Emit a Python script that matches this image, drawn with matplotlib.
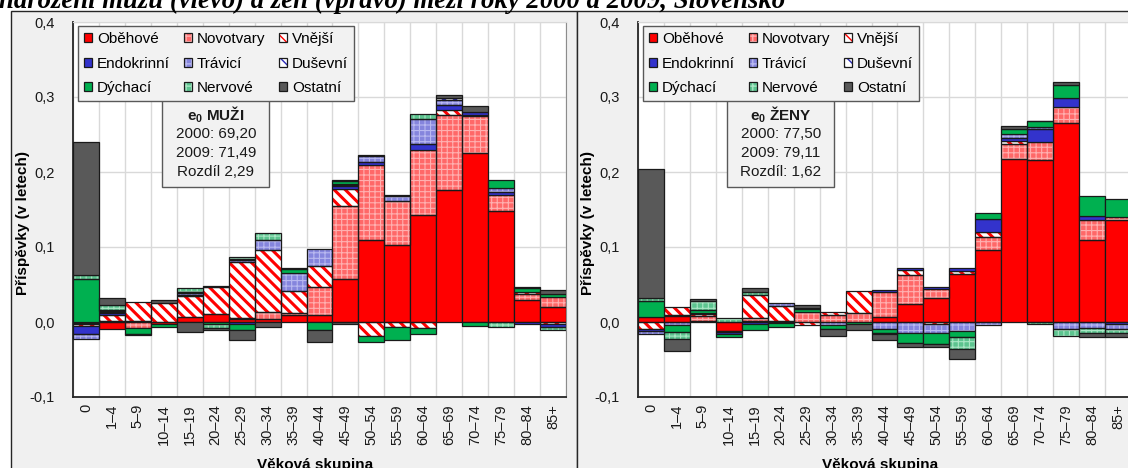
import numpy as np
import matplotlib
matplotlib.use("Agg")
import matplotlib.pyplot as plt
import matplotlib.patches as mpatches
import matplotlib.ticker as ticker
from matplotlib.legend_handler import HandlerTuple

plt.rcParams['font.family'] = ['Liberation Sans', 'DejaVu Sans']
plt.rcParams['mathtext.fontset'] = 'custom'
plt.rcParams['mathtext.rm'] = 'Liberation Sans'
plt.rcParams['mathtext.bf'] = 'Liberation Sans:bold'

W, H = 1128, 468

vekove_skupiny = ["0", "1–4", "5–9", "10–14", "15–19", "20–24", "25–29", "30–34", "35–39",
                  "40–44", "45–49", "50–54", "55–59", "60–64", "65–69", "70–74", "75–79",
                  "80–84", "85+"]
priciny = ["Oběhové", "Novotvary", "Vnější", "Endokrinní", "Trávicí", "Duševní",
           "Dýchací", "Nervové", "Ostatní"]

# muzi
obehove_m = [-0.001, -0.009, 0.001, -0.002, 0.007, 0.011, 0.004, 0.0045, 0.010, 0.0098,
             0.057, 0.110, 0.103, 0.143, 0.1755, 0.2253, 0.148, 0.030, 0.020]
novotvary_m = [-0.002, 0.002, -0.008, 0.0, 0.0, 0.0, 0.001, 0.009, 0.002, 0.037,
               0.098, 0.100, 0.0587, 0.086, 0.100, 0.049, 0.021, 0.0075, 0.013]
vnejsi_m = [-0.002, 0.008, 0.026, 0.025, 0.0275, 0.0355, 0.075, 0.082, 0.030, 0.028,
            0.022, -0.019, -0.006, -0.008, 0.0067, 0.002, 0.0, 0.003, -0.002]
endokrinni_m = [-0.0115, 0.002, 0.0, 0.0, 0.001, 0.001, -0.002, 0.0, 0.0, 0.0,
                0.004, 0.003, 0.0, 0.009, 0.0075, 0.004, 0.005, -0.003, -0.004]
travici_m = [-0.006, 0.002, 0.0, 0.0, 0.003, 0.0, 0.003, 0.0145, 0.024, 0.022,
             0.002, 0.009, 0.006, 0.033, 0.0067, 0.0, 0.005, 0.0, 0.0]
dusevni_m = [0.0, 0.001, 0.0, 0.0, 0.001, 0.0, 0.001, 0.0, 0.0, 0.0,
             0.001, 0.0, 0.0, 0.0, 0.002, 0.0, 0.0, 0.0, 0.0]
dychaci_m = [0.058, 0.001, -0.008, -0.004, 0.001, -0.002, -0.008, 0.0, 0.0045, -0.011,
             0.004, -0.0075, -0.018, -0.008, 0.0, -0.005, 0.011, 0.005, 0.005]
nervove_m = [0.0045, 0.007, 0.0, 0.0, 0.005, -0.006, 0.003, 0.009, 0.0, 0.0,
             0.001, 0.0, 0.0, 0.006, 0.0, 0.0, -0.006, 0.0, -0.004]
ostatni_m = [0.1775, 0.009, -0.001, 0.005, -0.0135, -0.003, -0.014, -0.006, 0.002, -0.015,
             -0.002, 0.001, 0.002, 0.0, 0.004, 0.0075, 0.0, 0.001, 0.0045]

# zeny
obehove_z = [0.0067, 0.0075, 0.001, -0.0115, 0.001, 0.002, 0.0, 0.0, 0.0, 0.0067,
             0.0236, 0.0324, 0.0636, 0.0964, 0.2178, 0.2156, 0.2658, 0.109, 0.1356]
novotvary_z = [0.0, 0.0025, 0.0067, 0.0, 0.0045, 0.0, 0.0133, 0.009, 0.0125, 0.0333,
               0.0387, 0.012, 0.0, 0.0169, 0.020, 0.0244, 0.0209, 0.0276, 0.005]
vnejsi_z = [-0.0095, 0.010, 0.003, -0.002, 0.031, 0.0187, -0.0035, 0.004, 0.029, 0.0,
            0.0067, -0.003, 0.005, 0.0067, 0.0035, 0.0, 0.0, 0.0, 0.0]
endokrinni_z = [-0.002, 0.0, 0.001, -0.002, -0.003, -0.001, 0.0, 0.0, 0.0, 0.003,
                0.0035, 0.002, 0.0035, 0.0169, 0.0045, 0.018, 0.0124, 0.005, -0.003]
travici_z = [-0.005, -0.0045, 0.0, 0.0, 0.0, 0.0045, 0.0, -0.004, 0.0, -0.0095,
             -0.015, -0.012, -0.0115, -0.0045, 0.0045, 0.002, -0.009, -0.008, -0.006]
dusevni_z = [0.0, 0.0, 0.0, -0.001, 0.0, 0.0, 0.0, 0.0, 0.0, 0.0,
             0.0, 0.0, 0.0, 0.0, 0.0, 0.0, 0.0, 0.0, 0.0]
dychaci_z = [0.0213, -0.0093, 0.0045, -0.003, -0.0075, -0.005, 0.004, -0.005, -0.002, -0.005,
             -0.013, -0.0147, -0.009, 0.0084, 0.0075, 0.0075, 0.0164, 0.027, 0.0235]
nervove_z = [0.004, -0.009, 0.0115, 0.005, 0.003, 0.0, 0.001, 0.0, 0.0, -0.002,
             0.0, 0.0, -0.0155, 0.0, 0.0, -0.002, -0.009, -0.006, -0.005]
ostatni_z = [0.1724, -0.0165, 0.0035, 0.0, 0.006, 0.0, 0.005, -0.0095, -0.009, -0.008,
             -0.005, -0.003, -0.013, 0.0, 0.004, 0.001, 0.004, -0.006, -0.006]

muzi = [obehove_m, novotvary_m, vnejsi_m, endokrinni_m, travici_m, dusevni_m,
        dychaci_m, nervove_m, ostatni_m]
zeny = [obehove_z, novotvary_z, vnejsi_z, endokrinni_z, travici_z, dusevni_z,
        dychaci_z, nervove_z, ostatni_z]

text_muzi = [r"$\mathbf{e_0}$ MUŽI", "2000: 69,20", "2009: 71,49", "Rozdíl 2,29"]
text_zeny = [r"$\mathbf{e_0}$ ŽENY", "2000: 77,50", "2009: 79,11", "Rozdíl: 1,62"]

title = "narození mužů (vlevo) a žen (vpravo) mezi roky 2000 a 2009, Slovensko"

# face colour, hatch, hatch colour, hatch line width
styles = {
    "Oběhové": ("#ff0000", None, None, 0),
    "Novotvary": ("#ff6868", "+++", "#ffb0b0", 0.8),
    "Vnější": ("#ffffff", "\\\\\\", "#ff0000", 2.2),
    "Endokrinní": ("#3333cc", None, None, 0),
    "Trávicí": ("#8585dd", "+++", "#b8b8f0", 0.8),
    "Duševní": ("#ffffff", "\\\\\\", "#2b2bb8", 2.2),
    "Dýchací": ("#00b050", None, None, 0),
    "Nervové": ("#5cc48f", "+++", "#a8e6c4", 0.8),
    "Ostatní": ("#595959", None, None, 0),
}
EDGE = "#1a1a1a"


def px(x):
    return x / W


def py(y):
    return 1 - y / H


def draw_panel(ax, data, lines, ylabel_x):
    x = np.arange(len(vekove_skupiny))
    pos_bottom = np.zeros(len(x))
    neg_bottom = np.zeros(len(x))
    for name, vals in zip(priciny, data):
        vals = np.asarray(vals, dtype=float)
        pos = np.where(vals > 0, vals, 0.0)
        neg = np.where(vals < 0, vals, 0.0)
        face, hatch, hcol, hlw = styles[name]
        for v, b in ((pos, pos_bottom), (neg, neg_bottom)):
            m = v != 0
            if not m.any():
                continue
            if hatch:
                with plt.rc_context({'hatch.linewidth': hlw}):
                    ax.bar(x[m], v[m], bottom=b[m], width=1.0, color=face, edgecolor=hcol,
                           linewidth=0, hatch=hatch, zorder=2)
                ax.bar(x[m], v[m], bottom=b[m], width=1.0, fill=False, edgecolor=EDGE,
                       linewidth=0.9, zorder=3)
            else:
                ax.bar(x[m], v[m], bottom=b[m], width=1.0, color=face, edgecolor=EDGE,
                       linewidth=0.9, zorder=3)
        pos_bottom += pos
        neg_bottom += neg

    ax.set_xlim(-0.5, len(x) - 0.5)
    ax.set_ylim(-0.1, 0.4)
    ax.set_xticks(x, vekove_skupiny, rotation=90)
    ax.set_xticks(np.arange(len(x) + 1) - 0.5, minor=True)
    ax.set_yticks(np.arange(-0.1, 0.41, 0.1))
    ax.yaxis.set_major_formatter(ticker.FuncFormatter(
        lambda v, _: ("%.1f" % round(v, 1)).replace("-0.0", "0.0").replace(".", ",")))
    ax.tick_params(axis='both', which='both', length=0, labelsize=10.5, colors='#1a1a1a')
    ax.tick_params(axis='x', pad=5)
    ax.tick_params(axis='y', pad=13)
    ax.grid(True, axis='y', which='major', color='#d9d9d9', linewidth=1)
    ax.grid(True, axis='x', which='minor', color='#d9d9d9', linewidth=1)
    ax.set_axisbelow(True)
    for s in ('left', 'bottom'):
        ax.spines[s].set_color('#262626')
        ax.spines[s].set_linewidth(1.3)
    ax.spines['top'].set_color('#d9d9d9')
    ax.spines['right'].set_color('#8c8c8c')

    ax.set_ylabel("Příspěvky (v letech)", fontsize=11, fontweight='bold')
    ax.yaxis.set_label_coords(ylabel_x, 0.464)
    ax.set_xlabel("Věková skupina", fontsize=11, fontweight='bold')
    ax.xaxis.set_label_coords(0.49, -0.163)

    # legend, row by row like the original
    handles = []
    for name in priciny:
        face, hatch, hcol, hlw = styles[name]
        if hatch:
            with plt.rc_context({'hatch.linewidth': hlw}):
                fill = mpatches.Patch(facecolor=face, edgecolor=hcol, linewidth=0, hatch=hatch)
            handles.append((fill, mpatches.Patch(fill=False, edgecolor=EDGE, linewidth=0.9)))
        else:
            handles.append(mpatches.Patch(facecolor=face, edgecolor=EDGE, linewidth=0.9))
    order = [0, 3, 6, 1, 4, 7, 2, 5, 8]
    leg = ax.legend([handles[i] for i in order], [priciny[i] for i in order], ncol=3,
                    loc='upper left', bbox_to_anchor=(0.0101, 0.989), borderaxespad=0,
                    fontsize=11, handlelength=0.55, handleheight=0.55, handletextpad=0.3,
                    columnspacing=0.9, labelspacing=0.68, borderpad=0.4,
                    fancybox=False, framealpha=1, facecolor='#f2f2f2', edgecolor='#595959',
                    handler_map={tuple: HandlerTuple(ndivide=1, pad=0)})
    leg.get_frame().set_linewidth(1.0)
    leg.set_zorder(6)

    # e0 box
    ax.add_patch(mpatches.Rectangle((0.1805, 0.56), 0.218, 0.232, transform=ax.transAxes,
                                    facecolor='#f2f2f2', edgecolor='#595959', linewidth=1,
                                    zorder=5))
    for i, (line, yy) in enumerate(zip(lines, [0.752, 0.701, 0.6507, 0.6])):
        ax.text(0.29, yy, line, transform=ax.transAxes, ha='center', va='center',
                fontsize=11, fontweight='bold' if i == 0 else 'normal', color='#1a1a1a',
                zorder=7)


fig = plt.figure(figsize=(W / 100, H / 100), dpi=100)
fig.patch.set_facecolor('white')

# chart borders with grey background (behind the axes)
fig.patches.append(mpatches.Rectangle((px(11), py(475)), px(577 - 11), (475 - 11) / H,
                                      transform=fig.transFigure, facecolor='#f0f0f0',
                                      edgecolor='#262626', linewidth=1, zorder=-1))
fig.patches.append(mpatches.Rectangle((px(577), py(475)), px(1140 - 577), (475 - 11) / H,
                                      transform=fig.transFigure, facecolor='#f0f0f0',
                                      edgecolor='#262626', linewidth=1, zorder=-1))

ax1 = fig.add_axes([px(73), py(397), px(493), (397 - 22) / H])
ax2 = fig.add_axes([px(638), py(397), px(493), (397 - 22) / H])

draw_panel(ax1, muzi, text_muzi, -0.088)
draw_panel(ax2, zeny, text_zeny, -0.088)

fig.text(px(-1), py(7.5), title, fontfamily=['Liberation Serif'], fontstyle='italic',
         fontweight='bold', fontsize=19.3, ha='left', va='baseline')

fig.savefig("out.png", dpi=100)
